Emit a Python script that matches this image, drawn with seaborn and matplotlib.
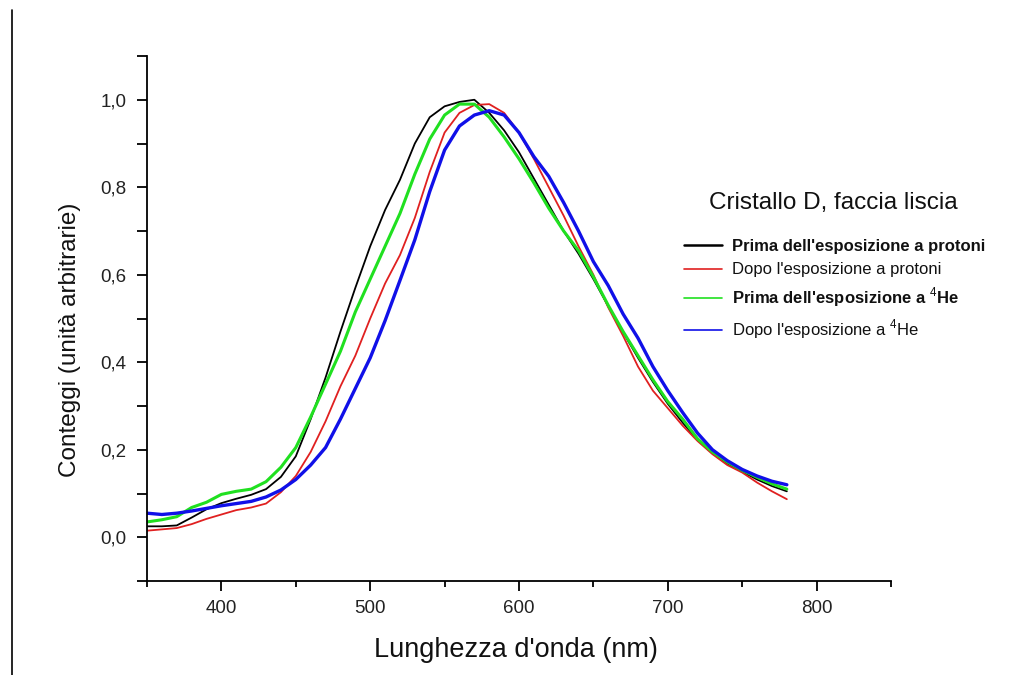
import numpy as np
import pandas as pd
import matplotlib
matplotlib.use("Agg")
import matplotlib.pyplot as plt
from matplotlib.lines import Line2D
from matplotlib.ticker import MultipleLocator, FuncFormatter
import seaborn as sns

# Wavelength grid (nm) of the spectra
wavelength = [350, 360, 370, 380, 390, 400, 410, 420, 430, 440,
              450, 460, 470, 480, 490, 500, 510, 520, 530, 540,
              550, 560, 570, 580, 590, 600, 610, 620, 630, 640,
              650, 660, 670, 680, 690, 700, 710, 720, 730, 740,
              750, 760, 770, 780]

# Normalised counts for each measurement
prima_protoni = [0.025, 0.025, 0.027, 0.045, 0.064, 0.078, 0.088, 0.097, 0.110, 0.138,
                 0.185, 0.270, 0.365, 0.470, 0.570, 0.665, 0.748, 0.817, 0.900, 0.960,
                 0.985, 0.995, 1.000, 0.970, 0.930, 0.880, 0.820, 0.760, 0.700, 0.648,
                 0.590, 0.528, 0.468, 0.410, 0.355, 0.305, 0.262, 0.222, 0.192, 0.168,
                 0.150, 0.132, 0.117, 0.105]
dopo_protoni = [0.015, 0.018, 0.021, 0.030, 0.042, 0.052, 0.062, 0.068, 0.077, 0.103,
                0.140, 0.195, 0.265, 0.345, 0.415, 0.500, 0.580, 0.645, 0.730, 0.835,
                0.925, 0.970, 0.988, 0.990, 0.970, 0.925, 0.865, 0.800, 0.735, 0.665,
                0.600, 0.525, 0.460, 0.390, 0.335, 0.295, 0.255, 0.220, 0.190, 0.165,
                0.148, 0.125, 0.105, 0.087]
prima_he = [0.035, 0.040, 0.047, 0.068, 0.080, 0.098, 0.105, 0.110, 0.127, 0.160,
            0.205, 0.275, 0.350, 0.425, 0.515, 0.590, 0.665, 0.740, 0.830, 0.910,
            0.965, 0.990, 0.990, 0.960, 0.915, 0.865, 0.810, 0.752, 0.700, 0.655,
            0.595, 0.530, 0.470, 0.415, 0.360, 0.310, 0.270, 0.225, 0.195, 0.172,
            0.153, 0.137, 0.122, 0.110]
dopo_he = [0.055, 0.052, 0.055, 0.060, 0.066, 0.072, 0.077, 0.082, 0.092, 0.108,
           0.132, 0.165, 0.205, 0.270, 0.340, 0.410, 0.495, 0.587, 0.680, 0.790,
           0.885, 0.940, 0.965, 0.975, 0.965, 0.925, 0.870, 0.825, 0.765, 0.700,
           0.630, 0.575, 0.510, 0.455, 0.390, 0.335, 0.285, 0.238, 0.200, 0.175,
           0.155, 0.140, 0.128, 0.120]

series_labels = ["Prima dell'esposizione a protoni",
                 "Dopo l'esposizione a protoni",
                 "Prima dell'esposizione a $^{4}$He",
                 "Dopo l'esposizione a $^{4}$He"]
series_values = [prima_protoni, dopo_protoni, prima_he, dopo_he]
series_colors = ["#000000", "#e02020", "#20e020", "#1010e8"]
series_widths = [1.3, 1.3, 2.2, 2.4]

legend_title = "Cristallo D, faccia liscia"
x_label = "Lunghezza d'onda (nm)"
y_label = "Conteggi (unità arbitrarie)"

frames = []
for lab, vals in zip(series_labels, series_values):
    frames.append(pd.DataFrame({"nm": wavelength, "val": vals, "serie": lab}))
df = pd.concat(frames, ignore_index=True)

sns.set_theme(style="ticks")
plt.rcParams["font.family"] = ["Liberation Sans", "DejaVu Sans"]
plt.rcParams["mathtext.fontset"] = "custom"
plt.rcParams["mathtext.rm"] = "Liberation Sans"

fig = plt.figure(figsize=(10.12, 6.75), dpi=100)
W, H = 1012, 675
ax = fig.add_axes([147 / W, 1 - 581 / H, (891 - 147) / W, (581 - 56) / H])

for lab, col, lw in zip(series_labels, series_colors, series_widths):
    sns.lineplot(data=df[df["serie"] == lab], x="nm", y="val", color=col,
                 linewidth=lw, ax=ax, legend=False, sort=False, estimator=None)

ax.set_xlim(350, 850)
ax.set_ylim(-0.1, 1.1)
ax.xaxis.set_major_locator(MultipleLocator(100))
ax.xaxis.set_minor_locator(MultipleLocator(50))
ax.yaxis.set_minor_locator(MultipleLocator(0.1))
ax.set_yticks([0.0, 0.2, 0.4, 0.6, 0.8, 1.0])
ax.yaxis.set_major_formatter(FuncFormatter(lambda v, p: f"{abs(v):.1f}".replace(".", ",")))
ax.xaxis.set_major_formatter(FuncFormatter(lambda v, p: f"{v:.0f}"))

sns.despine(ax=ax)
for s in ("left", "bottom"):
    ax.spines[s].set_linewidth(1.3)
    ax.spines[s].set_color("black")
ax.tick_params(axis="both", which="major", direction="out", length=7, width=1.3,
               color="black", labelsize=13.5, labelcolor="#222222")
ax.tick_params(axis="x", which="major", pad=7)
ax.tick_params(axis="y", which="major", pad=8)
ax.tick_params(axis="y", which="minor", direction="out", length=7, width=1.3, color="black")
ax.tick_params(axis="x", which="minor", direction="out", length=4.5, width=1.3, color="black")

ax.set_xlabel("")
ax.set_ylabel("")
fig.text(516 / W, 1 - 650 / H, x_label, ha="center", va="center", fontsize=19.5, color="#111111")
fig.text(70 / W, 1 - 340 / H, y_label, ha="center", va="center", rotation=90,
         fontsize=17.5, color="#111111")

# legend block
fig.text(833 / W, 1 - 203 / H, legend_title, ha="center", va="center", fontsize=17.5, color="#111111")
handles = [Line2D([0], [0], color=c, lw=(1.8 if i == 0 else 1.2))
           for i, c in enumerate(series_colors)]
leg = fig.legend(handles, series_labels, loc="upper left",
                 bbox_to_anchor=(684 / W, 1 - 239 / H), frameon=False,
                 fontsize=12, handlelength=2.3, handletextpad=0.6,
                 labelspacing=0.5, borderpad=0, borderaxespad=0)
for i, t in enumerate(leg.get_texts()):
    t.set_color("#111111")
    if i in (0, 2):
        t.set_fontweight("bold")

# page border line on the left
fig.add_artist(Line2D([12 / W, 12 / W], [0, 1 - 10 / H], color="black", lw=1.2,
                      transform=fig.transFigure))

fig.savefig("out.png", dpi=100, facecolor="white")
